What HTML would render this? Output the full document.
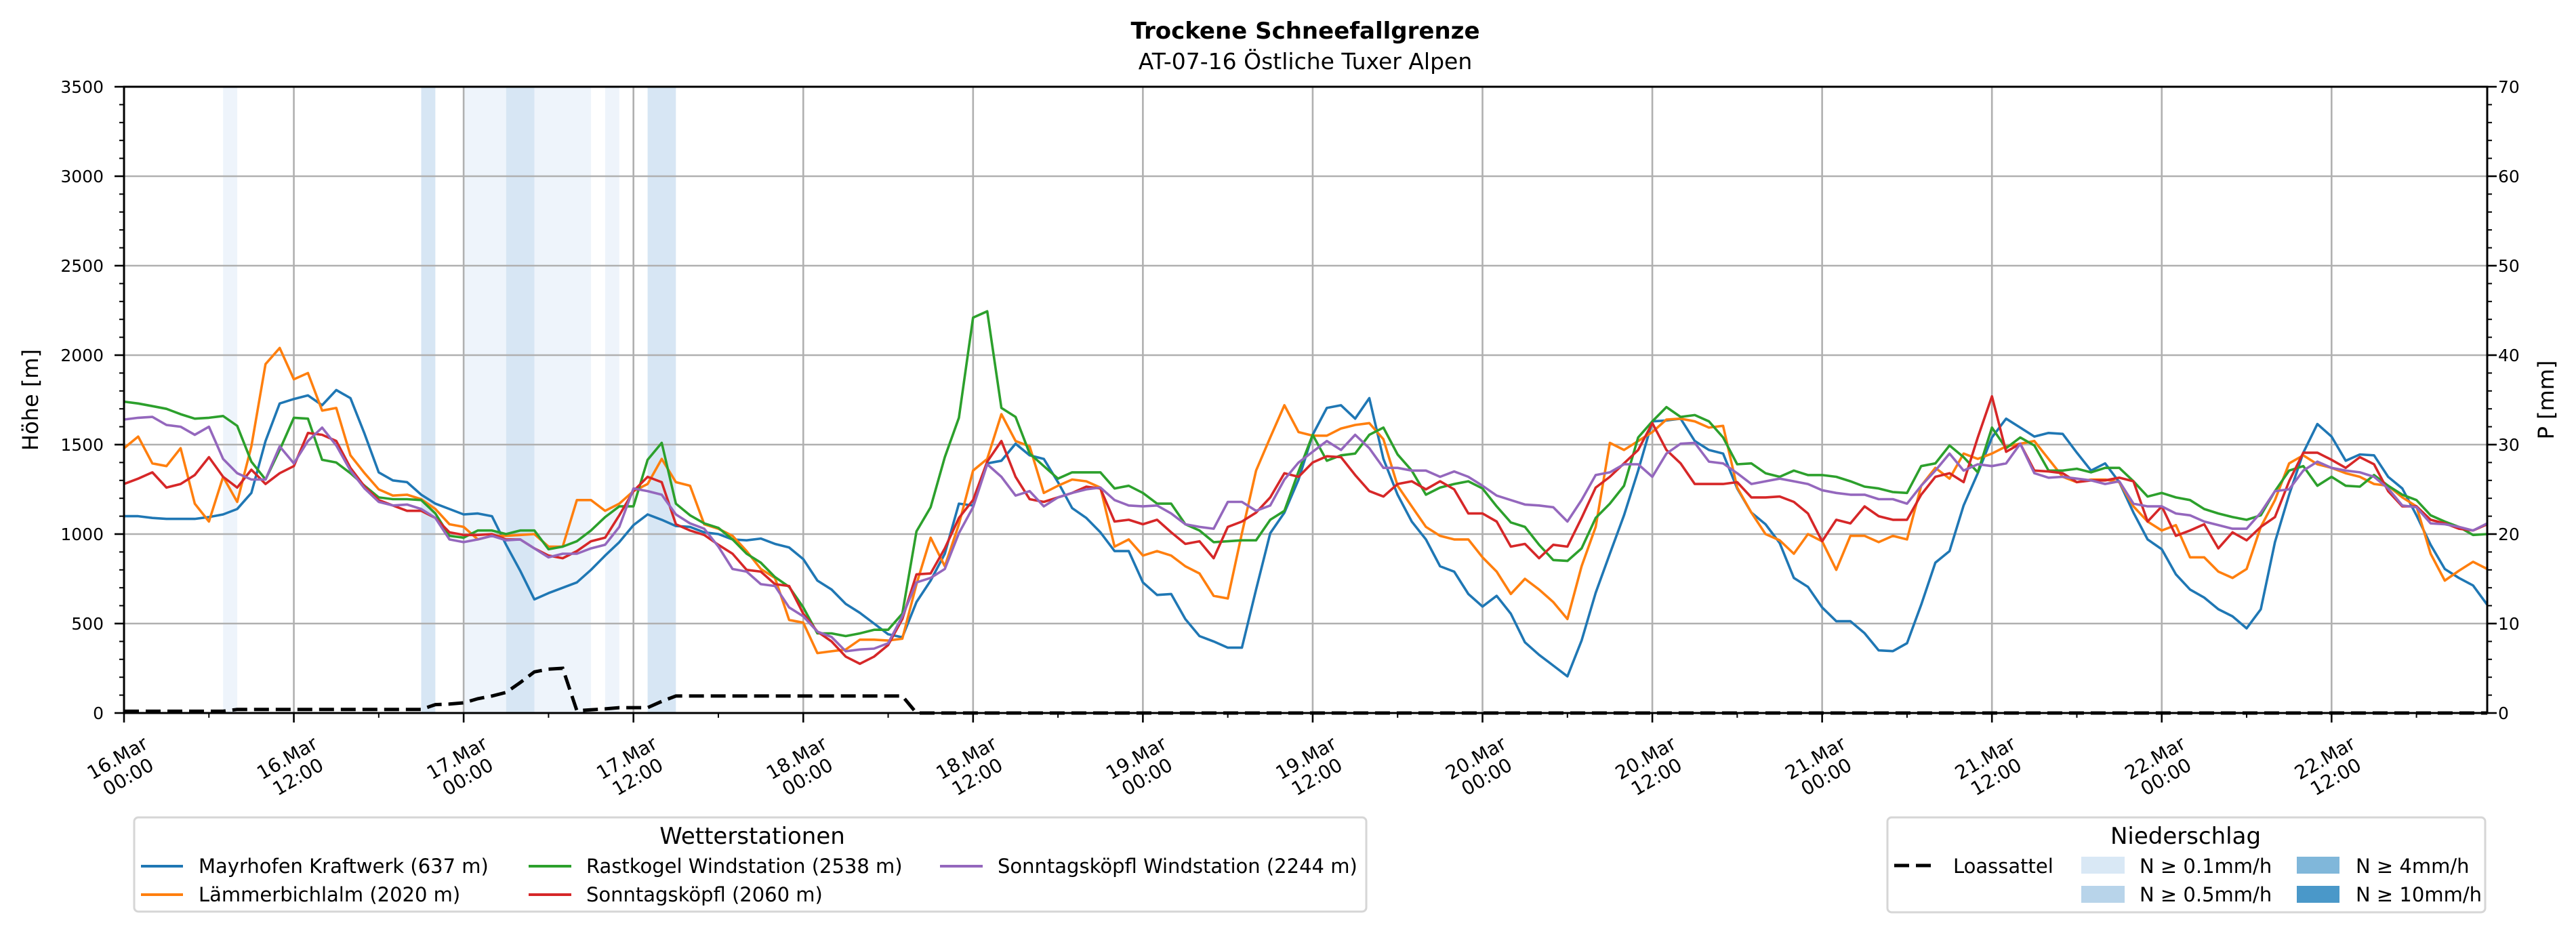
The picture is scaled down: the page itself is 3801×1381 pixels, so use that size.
<!DOCTYPE html>
<html><head><meta charset="utf-8"><style>
html,body{margin:0;padding:0;background:#fff;}
body{width:3801px;height:1377px;position:relative;overflow:hidden;font-family:"DejaVu Sans","Liberation Sans",sans-serif;}
svg text{font-family:"DejaVu Sans","Liberation Sans",sans-serif;}
</style></head><body>
<svg id="chart" width="3801" height="1377" viewBox="0 0 3801 1377" xmlns="http://www.w3.org/2000/svg">
<text x="1926" y="57" text-anchor="middle" font-size="34" font-weight="bold">Trockene Schneefallgrenze</text>
<text x="1926" y="102" text-anchor="middle" font-size="33">AT-07-16 Östliche Tuxer Alpen</text>
<g id="bands"></g>
<g id="grid"></g>
<g id="series"></g>
<g id="axes"></g>
<text transform="translate(56,590) rotate(-90)" text-anchor="middle" font-size="32">Höhe [m]</text>
<text transform="translate(3768,590) rotate(-90)" text-anchor="middle" font-size="32">P [mm]</text>
<g>
<rect x="198" y="1206" width="1818" height="139" rx="6" fill="#fff" stroke="#d6d6d6" stroke-width="3"/>
<text x="1110" y="1245" text-anchor="middle" font-size="34">Wetterstationen</text>
<g><line x1="208" y1="1278" x2="270" y2="1278" stroke="#1f77b4" stroke-width="4"/><text x="293" y="1288" font-size="29">Mayrhofen Kraftwerk (637 m)</text></g>
<g><line x1="208" y1="1320" x2="270" y2="1320" stroke="#ff7f0e" stroke-width="4"/><text x="293" y="1330" font-size="29">Lämmerbichlalm (2020 m)</text></g>
<g><line x1="780" y1="1278" x2="843" y2="1278" stroke="#2ca02c" stroke-width="4"/><text x="865" y="1288" font-size="29">Rastkogel Windstation (2538 m)</text></g>
<g><line x1="780" y1="1320" x2="843" y2="1320" stroke="#d62728" stroke-width="4"/><text x="865" y="1330" font-size="29">Sonntagsköpfl (2060 m)</text></g>
<g><line x1="1387" y1="1278" x2="1450" y2="1278" stroke="#9467bd" stroke-width="4"/><text x="1472" y="1288" font-size="29">Sonntagsköpfl Windstation (2244 m)</text></g>
</g>
<g>
<rect x="2785" y="1206" width="882" height="140" rx="6" fill="#fff" stroke="#d6d6d6" stroke-width="3"/>
<text x="3225" y="1245" text-anchor="middle" font-size="34">Niederschlag</text>
<g><line x1="2795" y1="1277" x2="2855" y2="1277" stroke="#000" stroke-width="5" stroke-dasharray="22,10"/><text x="2882" y="1288" font-size="29">Loassattel</text></g>
<g><rect x="3071" y="1264" width="64" height="25" fill="#d9e8f5"/><text x="3157" y="1288" font-size="29">N ≥ 0.1mm/h</text></g>
<g><rect x="3071" y="1307" width="64" height="25" fill="#b8d4ea"/><text x="3157" y="1330" font-size="29">N ≥ 0.5mm/h</text></g>
<g><rect x="3389" y="1264" width="63" height="25" fill="#80b7da"/><text x="3476" y="1288" font-size="29">N ≥ 4mm/h</text></g>
<g><rect x="3389" y="1307" width="63" height="25" fill="#4a98c9"/><text x="3476" y="1330" font-size="29">N ≥ 10mm/h</text></g>
</g>
</svg>
<script>
const xTickLabels=["16.Mar\n00:00","16.Mar\n12:00","17.Mar\n00:00","17.Mar\n12:00","18.Mar\n00:00","18.Mar\n12:00","19.Mar\n00:00","19.Mar\n12:00","20.Mar\n00:00","20.Mar\n12:00","21.Mar\n00:00","21.Mar\n12:00","22.Mar\n00:00","22.Mar\n12:00"];
const yTicks=[0,500,1000,1500,2000,2500,3000,3500];
const y2Ticks=[0,10,20,30,40,50,60,70];
const mayrhofen=[1100,1100,1090,1085,1085,1085,1095,1110,1140,1230,1520,1730,1755,1775,1720,1805,1760,1560,1345,1300,1290,1220,1170,1140,1110,1115,1100,940,795,635,670,700,730,800,880,955,1050,1110,1080,1045,1040,1010,1000,970,965,975,945,925,860,740,690,610,560,500,
440,423,620,740,890,1170,1160,1395,1410,1505,1440,1420,1290,1145,1090,1010,905,905,730,660,665,525,430,400,365,365,690,1005,1120,1305,1555,1705,1720,1645,1760,1420,1220,1070,970,820,790,665,595,655,555,395,325,265,205,405,672,890,1105,1355,1630,1635,1645,1520,1470,1450,
1255,1120,1055,950,755,705,590,513,513,446,350,346,390,605,840,905,1160,1340,1540,1645,1595,1545,1565,1560,1455,1355,1395,1290,1120,970,915,775,690,645,580,540,473,580,955,1220,1455,1615,1545,1410,1445,1440,1320,1255,1105,940,805,755,713,605];
const laemmerbichl=[1480,1545,1395,1380,1480,1170,1070,1320,1180,1490,1950,2040,1865,1900,1690,1705,1440,1340,1250,1215,1220,1195,1140,1055,1040,970,990,990,995,1000,930,930,1190,1190,1130,1170,1240,1280,1420,1290,1270,1055,1030,990,905,805,755,520,505,335,345,355,410,410,
405,415,720,980,820,1055,1355,1420,1670,1520,1490,1230,1270,1305,1295,1260,930,970,880,905,880,820,780,655,640,1005,1355,1540,1720,1570,1550,1550,1590,1610,1620,1530,1270,1155,1040,990,970,970,870,790,665,750,690,620,525,820,1040,1510,1470,1520,1570,1640,1645,1630,1595,1605,
1260,1120,1000,965,890,1000,960,800,990,990,955,990,970,1270,1370,1310,1450,1420,1450,1490,1505,1520,1420,1320,1290,1305,1305,1290,1155,1070,1020,1050,870,870,790,755,805,1040,1190,1395,1440,1390,1370,1340,1320,1280,1270,1205,1155,890,740,795,845,805];
const rastkogel=[1740,1730,1715,1700,1670,1645,1650,1660,1605,1405,1305,1470,1650,1645,1415,1400,1340,1270,1205,1195,1195,1190,1115,990,980,1020,1020,1000,1020,1020,915,930,960,1020,1095,1155,1155,1415,1510,1170,1105,1060,1035,970,890,840,760,705,590,445,445,430,445,465,
465,555,1015,1150,1430,1650,2210,2245,1705,1655,1450,1380,1310,1345,1345,1345,1255,1270,1230,1170,1170,1055,1020,955,960,965,965,1080,1130,1350,1555,1410,1440,1450,1555,1595,1445,1355,1220,1260,1280,1295,1255,1155,1065,1040,940,855,850,920,1090,1170,1270,1540,1630,1710,1655,1665,1630,1540,
1390,1395,1340,1320,1355,1330,1330,1320,1295,1265,1255,1235,1230,1380,1395,1495,1430,1345,1595,1480,1540,1495,1355,1355,1365,1345,1370,1370,1295,1210,1230,1205,1190,1140,1115,1095,1080,1105,1240,1355,1380,1270,1320,1270,1265,1330,1270,1220,1190,1105,1070,1040,995,1000];
const sonntagskoepfl=[1280,1310,1345,1260,1280,1330,1430,1320,1260,1360,1280,1340,1380,1565,1555,1520,1370,1265,1190,1160,1130,1130,1090,1010,995,995,1000,970,970,920,880,865,905,960,980,1105,1240,1320,1290,1055,1020,995,940,890,800,790,720,710,555,455,400,315,275,315,
380,525,775,780,920,1090,1190,1405,1520,1320,1195,1180,1205,1230,1265,1255,1070,1080,1055,1080,1010,945,960,865,1040,1070,1120,1205,1340,1320,1400,1435,1430,1330,1240,1210,1280,1295,1250,1295,1250,1115,1115,1070,930,945,865,940,930,1090,1260,1320,1395,1470,1620,1470,1395,1280,1280,1280,
1290,1205,1205,1210,1180,1115,960,1080,1060,1155,1100,1080,1080,1220,1320,1340,1290,1540,1770,1460,1505,1355,1350,1340,1290,1300,1300,1315,1295,1070,1155,990,1020,1055,920,1010,965,1040,1095,1295,1455,1455,1415,1370,1430,1390,1240,1155,1155,1080,1060,1030,1020,1055];
const sonntagsWind=[1640,1650,1655,1610,1600,1555,1600,1420,1340,1305,1305,1490,1395,1520,1595,1495,1355,1255,1180,1160,1165,1140,1090,970,955,970,990,965,970,920,870,890,890,920,940,1040,1255,1240,1220,1110,1060,1030,930,805,790,720,710,590,540,455,425,345,355,360,
390,540,730,755,805,1005,1150,1390,1320,1215,1240,1155,1205,1230,1250,1260,1190,1160,1155,1160,1115,1055,1040,1030,1180,1180,1130,1160,1305,1400,1460,1520,1470,1555,1480,1370,1370,1355,1355,1320,1350,1320,1270,1215,1190,1165,1160,1150,1070,1190,1330,1345,1390,1390,1320,1450,1505,1510,1405,1395,
1340,1280,1295,1310,1295,1280,1245,1230,1220,1220,1195,1195,1170,1270,1355,1450,1355,1390,1380,1395,1505,1340,1315,1320,1310,1300,1280,1295,1170,1155,1155,1115,1105,1070,1050,1030,1030,1120,1240,1250,1355,1405,1370,1355,1345,1320,1255,1160,1150,1060,1055,1040,1020,1060];
const loassattel=[10,10,10,10,10,10,10,10,20,20,20,20,20,20,20,20,20,20,20,20,20,20,47,50,57,80,95,115,170,230,245,250,13,18,23,30,30,30,65,95,95,95,95,95,95,95,95,95,95,95,95,95,95,95,95,95,
0,0,0,0,0,0,0,0,0,0,0,0,0,0,0,0,0,0,0,0,0,0,0,0,0,0,0,0,0,0,0,0,0,0,0,0,0,0,0,0,0,0,0,0,0,0,0,0,0,0,0,0,0,0,0,0,0,0,0,0,0,0,0,0,0,0,0,0,0,0,0,0,0,0,0,0,0,0,0,0,0,0,0,0,0,0,0,0,0,0,0,0,0,0,0,0,0,0,0,0,0,0,0,0,0,0,0,0,0,0,0,0];
const bandStart=[7,21,24,27,29,34,37];
const bandEnd=[8,22,27,29,33,35,39];
const bandLevel=[0.1,0.5,0.1,0.5,0.1,0.1,0.5];

const NS="http://www.w3.org/2000/svg";
const L=183,R=3670,T=128,B=1052,HMAX=167;
function xs(h){return L+h*(R-L)/HMAX;}
function ys(v){return B-v/3500*(B-T);}
function ys2(p){return B-p/70*(B-T);}
function mk(tag,attrs,parent){const e=document.createElementNS(NS,tag);for(const k in attrs)e.setAttribute(k,attrs[k]);parent.appendChild(e);return e;}
const bands=document.getElementById('bands'),grid=document.getElementById('grid'),series=document.getElementById('series'),axes=document.getElementById('axes');
const bandColor={0.1:'#eef4fb',0.5:'#d7e6f4',4:'#b0d0e8',10:'#80b7da'};
for(let i=0;i<bandStart.length;i++){
 const r=mk('rect',{x:xs(bandStart[i]),y:T,width:xs(bandEnd[i])-xs(bandStart[i]),height:B-T,fill:bandColor[bandLevel[i]]},bands);
 
 
}
for(let i=0;i<xTickLabels.length;i++){
 const x=xs(i*12);
 const g=mk('line',{x1:x,y1:T,x2:x,y2:B,stroke:'#b0b0b0','stroke-width':2.6},grid);
 
 
}
for(const v of yTicks){
 const g=mk('line',{x1:L,y1:ys(v),x2:R,y2:ys(v),stroke:'#b0b0b0','stroke-width':2.6},grid);
 
 
}
const seriesDefs=[[mayrhofen,'#1f77b4','line-mayrhofen'],[laemmerbichl,'#ff7f0e','line-laemmerbichlalm'],[rastkogel,'#2ca02c','line-rastkogel'],[sonntagskoepfl,'#d62728','line-sonntagskoepfl'],[sonntagsWind,'#9467bd','line-sonntagskoepfl-wind']];
for(const [arr,col,name] of seriesDefs){
 const pts=arr.map((v,i)=>xs(i).toFixed(1)+','+ys(v).toFixed(1)).join(' ');
 const p=mk('polyline',{points:pts,fill:'none',stroke:col,'stroke-width':3.6,'stroke-linejoin':'round'},series);
 
 
}
{
 const pts=loassattel.map((v,i)=>xs(i).toFixed(1)+','+ys(v).toFixed(1)).join(' ');
 const p=mk('polyline',{points:pts,fill:'none',stroke:'#000','stroke-width':5,'stroke-dasharray':'22,10'},series);
 
 
}
const fr=mk('rect',{x:L,y:T,width:R-L,height:B-T,fill:'none',stroke:'#000','stroke-width':3},axes);


for(let v=0;v<=3500;v+=100){
 const major=v%500===0;
 const t=mk('line',{x1:L,x2:L-(major?14:7),y1:ys(v),y2:ys(v),stroke:'#000','stroke-width':major?2.6:2},axes);
 
 
}
for(const v of yTicks){
 const t=mk('text',{x:153,y:ys(v)+9,'text-anchor':'end','font-size':25},axes);
 t.textContent=v;
 
 
}
for(let p=0;p<=70;p+=2){
 const major=p%10===0;
 const t=mk('line',{x1:R,x2:R+(major?14:7),y1:ys2(p),y2:ys2(p),stroke:'#000','stroke-width':major?2.6:2},axes);
 
 
}
for(const p of y2Ticks){
 const t=mk('text',{x:3686,y:ys2(p)+9,'text-anchor':'start','font-size':25},axes);
 t.textContent=p;
 
 
}
for(let h=0;h<=HMAX;h+=6){
 const major=h%12===0;
 const t=mk('line',{x1:xs(h),x2:xs(h),y1:B,y2:B+(major?14:7),stroke:'#000','stroke-width':major?2.6:2},axes);
 
 
}
for(let i=0;i<xTickLabels.length;i++){
 const parts=xTickLabels[i].split('\n');
 const t=mk('text',{transform:'translate('+(xs(i*12)-2)+',1132) rotate(-30)','text-anchor':'middle','font-size':28},axes);
 
 
 const a=mk('tspan',{x:0,y:-6},t);a.textContent=parts[0];
 const b=mk('tspan',{x:0,y:26},t);b.textContent=parts[1];
}
</script>
</body></html>
